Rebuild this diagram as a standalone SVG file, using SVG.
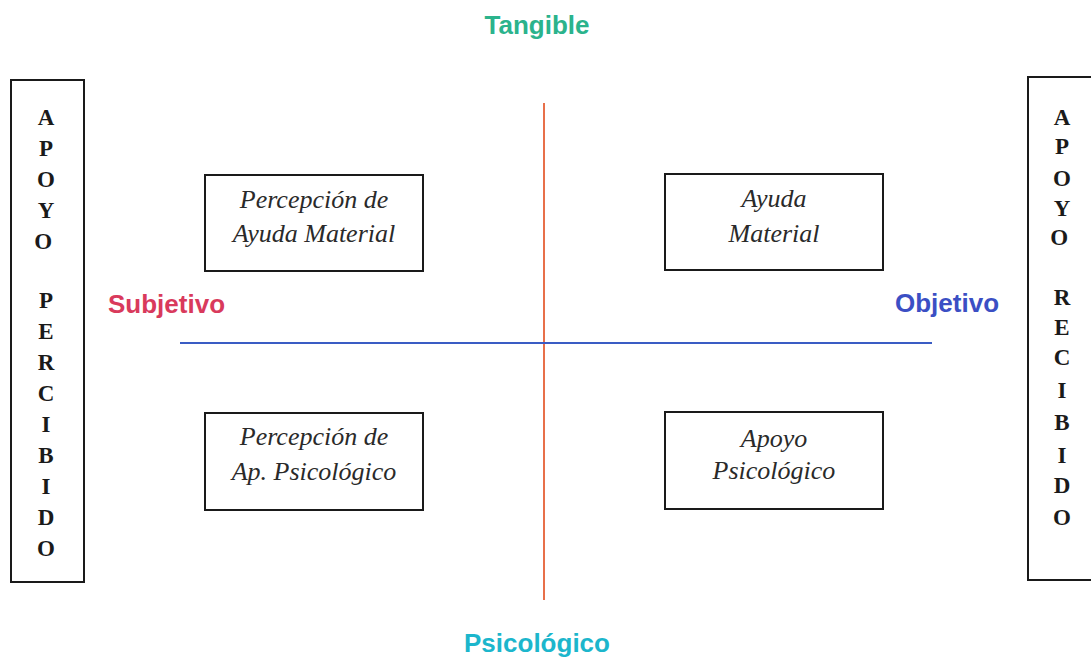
<svg xmlns="http://www.w3.org/2000/svg" width="1091" height="657" viewBox="0 0 1091 657">
<style>
.box{fill:none;stroke:#1a1a1a;stroke-width:2}
.q{font-family:"Liberation Serif",serif;font-style:italic;font-size:26px;fill:#2a2a2a;text-anchor:middle}
.v{font-family:"Liberation Serif",serif;font-weight:bold;font-size:23px;fill:#1a1a1a;text-anchor:middle}
.lab{font-family:"Liberation Sans",Arial,sans-serif;font-weight:bold;font-size:26px}
</style>
<rect width="1091" height="657" fill="#fff"/>
<g id="connectors">
<line x1="544" y1="103" x2="544" y2="600" stroke="#e8704a" stroke-width="2"/>
<line x1="180" y1="343" x2="932" y2="343" stroke="#3a5cc4" stroke-width="2"/>
</g>
<g id="tangible"><text class="lab" x="537" y="34" fill="#2bb38c" text-anchor="middle">Tangible</text></g>
<g id="psicologico"><text class="lab" x="537" y="652" fill="#1cb6cc" text-anchor="middle">Psicológico</text></g>
<g id="subjetivo"><text class="lab" x="108" y="313" fill="#d93a5c">Subjetivo</text></g>
<g id="objetivo"><text class="lab" x="895" y="312" fill="#3b4fc4">Objetivo</text></g>
<g id="apoyo-percibido">
<rect class="box" x="11" y="80" width="73" height="502"/>
<text class="v">
<tspan x="46" y="125">A</tspan><tspan x="46" y="156">P</tspan><tspan x="46" y="187">O</tspan><tspan x="46" y="218">Y</tspan><tspan x="46" y="249">O</tspan>
<tspan x="46" y="308">P</tspan><tspan x="46" y="339">E</tspan><tspan x="46" y="370">R</tspan><tspan x="46" y="401">C</tspan><tspan x="46" y="432">I</tspan><tspan x="46" y="463">B</tspan><tspan x="46" y="494">I</tspan><tspan x="46" y="525">D</tspan><tspan x="46" y="556">O</tspan>
</text>
</g>
<g id="apoyo-recibido">
<rect class="box" x="1028" y="77" width="70" height="503"/>
<text class="v">
<tspan x="1062" y="125">A</tspan><tspan x="1062" y="154">P</tspan><tspan x="1062" y="186">O</tspan><tspan x="1062" y="216">Y</tspan><tspan x="1062" y="245">O</tspan>
<tspan x="1062" y="305">R</tspan><tspan x="1062" y="335">E</tspan><tspan x="1062" y="365">C</tspan><tspan x="1062" y="398">I</tspan><tspan x="1062" y="430">B</tspan><tspan x="1062" y="463">I</tspan><tspan x="1062" y="493">D</tspan><tspan x="1062" y="525">O</tspan>
</text>
</g>
<g id="percepcion-ayuda-material">
<rect class="box" x="205" y="175" width="218" height="96"/>
<text class="q"><tspan x="314" y="208">Percepción de</tspan><tspan x="314" y="242">Ayuda Material</tspan></text>
</g>
<g id="ayuda-material">
<rect class="box" x="665" y="174" width="218" height="96"/>
<text class="q"><tspan x="774" y="207">Ayuda</tspan><tspan x="774" y="242">Material</tspan></text>
</g>
<g id="percepcion-ap-psicologico">
<rect class="box" x="205" y="413" width="218" height="97"/>
<text class="q"><tspan x="314" y="445">Percepción de</tspan><tspan x="314" y="480">Ap. Psicológico</tspan></text>
</g>
<g id="apoyo-psicologico">
<rect class="box" x="665" y="412" width="218" height="97"/>
<text class="q"><tspan x="774" y="447">Apoyo</tspan><tspan x="774" y="479">Psicológico</tspan></text>
</g>
</svg>
